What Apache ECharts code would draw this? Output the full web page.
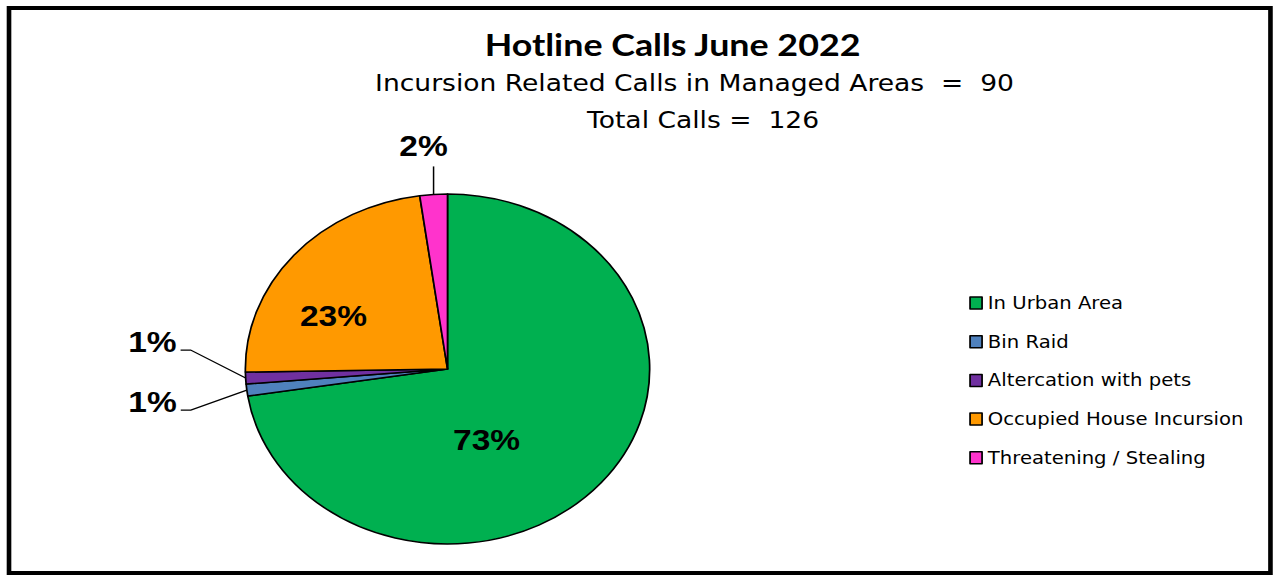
<!DOCTYPE html>
<html><head><meta charset="utf-8">
<script src="https://cdn.jsdelivr.net/npm/echarts@6/dist/echarts.min.js"></script>
<style>
html,body{margin:0;padding:0;background:#fff;overflow:hidden}
#wrap{width:1273px;height:576px;overflow:hidden}
#c{width:1102px;height:576px;transform-origin:0 0}
</style>
</head><body><div id="wrap"><div id="c"></div></div>
<script>
// ---- data ----
const categories = ['In Urban Area', 'Bin Raid', 'Altercation with pets', 'Occupied House Incursion', 'Threatening / Stealing'];
const values = [66, 1, 1, 21, 2];
const titleText = 'Hotline Calls June 2022';
const subLabel1 = 'Incursion Related Calls in Managed Areas  =  ';
const subValue1 = 90;
const subLabel2 = 'Total Calls =  ';
const subValue2 = 126;

// ---- style / layout ----
// The reference image is stretched horizontally; draw at 1102px width and stretch to 1273px.
const W = 1102, H = 576, S = 1273 / W;
document.getElementById('c').style.transform = 'scaleX(' + S + ')';
const colors = ['#00B050', '#4F81BD', '#7030A0', '#FF9900', '#FF33CC'];
const CX = 387.4, CY = 369, R = 175;
const labelSpec = [
  { mode: 'in', dx: -35, dy: 12 },
  { mode: 'out', dx: -48.5, dy: 20 },
  { mode: 'out', dx: -47.6, dy: -28 },
  { mode: 'in', dx: -30, dy: 6 },
  { mode: 'up', dy: -28 }
];
const total = values.reduce((a, b) => a + b, 0);
function edgePoint(i) {
  let cum = 0;
  for (let j = 0; j < i; j++) cum += values[j];
  const mid = (cum + values[i] / 2) / total * Math.PI * 2;
  return [CX + R * Math.sin(mid), CY - R * Math.cos(mid)];
}

const pieData = categories.map((name, i) => {
  const s = labelSpec[i];
  return {
    name, value: values[i],
    itemStyle: { color: colors[i] },
    label: { position: s.mode === 'in' ? 'inside' : 'outside' },
    labelLine: { show: s.mode !== 'in' }
  };
});

const chart = echarts.init(document.getElementById('c'), null, { renderer: 'svg', width: W, height: H });
chart.setOption({
  backgroundColor: '#fff',
  animation: false,
  legend: {
    data: categories, orient: 'vertical', left: 834, top: 288,
    icon: 'rect', itemWidth: 10.4, itemHeight: 12, itemGap: 18.7,
    itemStyle: { borderColor: '#000', borderWidth: 1.5 },
    textStyle: { fontFamily: 'DejaVu Sans', fontSize: 17, color: '#000', lineHeight: 20 },
    selectedMode: false
  },
  graphic: [
    { type: 'rect', shape: { x: 7.8, y: 8, width: 1092, height: 565 }, silent: true,
      style: { fill: null, stroke: '#000', lineWidth: 4 } },
    { type: 'text', x: 582.2, y: 44, style: { text: titleText, font: 'bold 31px Lato', fill: '#000', align: 'center', verticalAlign: 'middle' } },
    { type: 'text', x: 601.2, y: 83.5, style: { text: subLabel1 + subValue1, font: '23px "DejaVu Sans"', fill: '#000', align: 'center', verticalAlign: 'middle' } },
    { type: 'text', x: 608.6, y: 120, style: { text: subLabel2 + subValue2, font: '23px "DejaVu Sans"', fill: '#000', align: 'center', verticalAlign: 'middle' } }
  ],
  series: [{
    type: 'pie', name: 'Hotline Calls',
    center: [CX, CY], radius: R,
    startAngle: 90, clockwise: true,
    percentPrecision: 0,
    avoidLabelOverlap: false,
    itemStyle: { borderColor: '#000', borderWidth: 1.5 },
    label: {
      formatter: '{d}%', color: '#000',
      fontFamily: '"Liberation Sans"', fontWeight: 'bold', fontSize: 29
    },
    labelLine: { length: 20, length2: 10, lineStyle: { color: '#000', width: 1.3 } },
    emphasis: { disabled: true },
    labelLayout: function (p) {
      const s = labelSpec[p.dataIndex];
      if (s.mode === 'in') return { dx: s.dx, dy: s.dy };
      const e = (p.labelLinePoints && p.labelLinePoints[0]) || edgePoint(p.dataIndex);
      if (s.mode === 'out') {
        const el = [e[0] + s.dx, e[1] + s.dy];
        const end = [el[0] - 8.7, el[1]];
        return { x: end[0] - 3.5, y: end[1] - 8, align: 'right', verticalAlign: 'middle',
          labelLinePoints: [e, el, end] };
      }
      const el = [e[0], e[1] + s.dy];
      return { x: el[0] - 8.7, y: el[1] - 20, align: 'center', verticalAlign: 'middle',
        labelLinePoints: [e, el, el] };
    },
    data: pieData
  }]
});
</script></body></html>
